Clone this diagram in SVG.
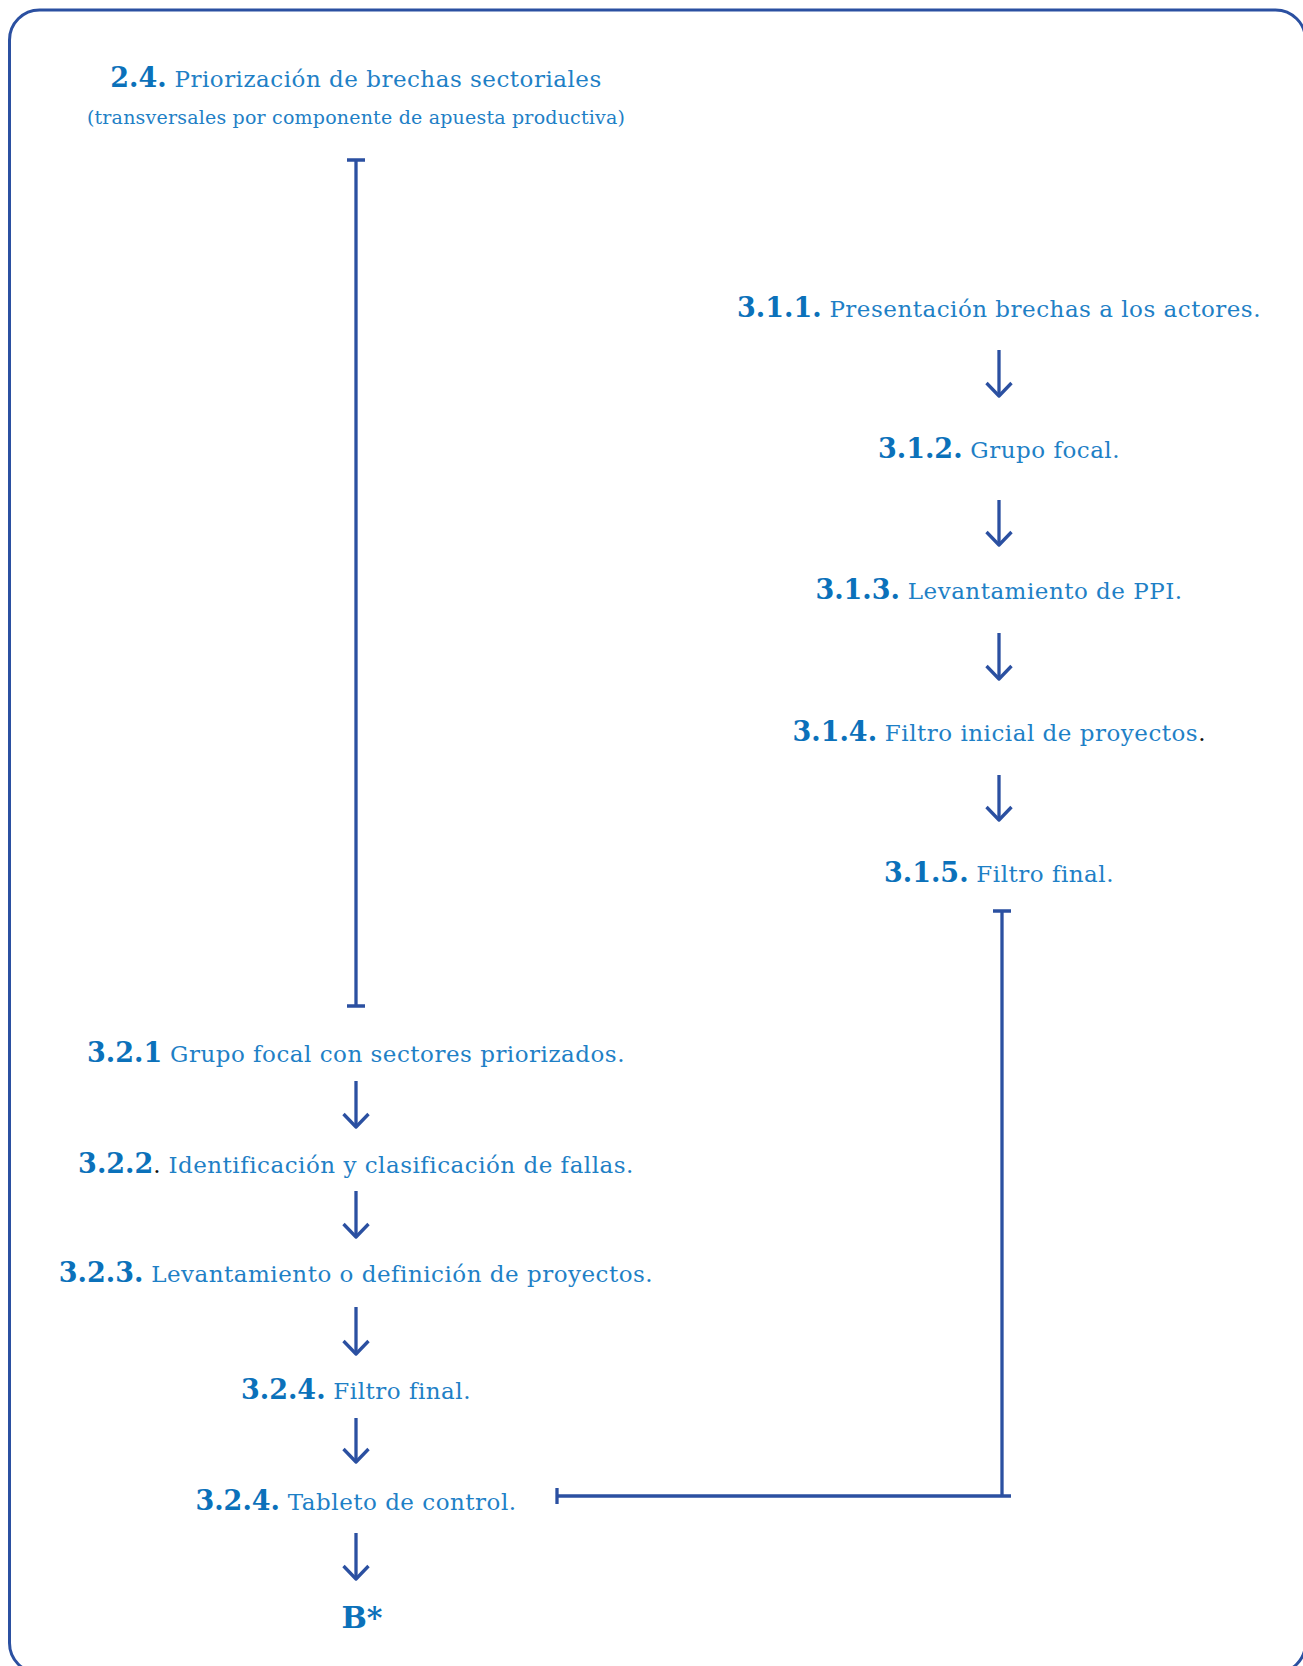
<svg xmlns="http://www.w3.org/2000/svg" width="1303" height="1666" viewBox="0 0 1303 1666">
<style>
.frame{fill:none;stroke:#2b50a1;stroke-width:3}
.con{fill:none;stroke:#2b50a1;stroke-width:3.3}
.arr{fill:none;stroke:#2b50a1;stroke-width:3.3;marker-end:url(#chev)}
text{font-family:"DejaVu Serif","Liberation Serif",serif;text-anchor:middle}
.num{font-weight:bold;font-size:27px;fill:#0b71ba}
.lbl{font-size:23px;letter-spacing:0.5px;fill:#1e80c6}
.sub{font-size:19px;letter-spacing:0.2px;fill:#1e80c6}
.blk{fill:#111111;font-size:23px}
.big{font-weight:bold;font-size:30px;fill:#0b71ba}
</style>
<defs>
<marker id="chev" markerUnits="userSpaceOnUse" orient="auto" refX="0" refY="0" markerWidth="30" markerHeight="30" viewBox="-16 -15 20 30" overflow="visible">
<path d="M-13,-12.5 L0,0 L-13,12.5" fill="none" stroke="#2b50a1" stroke-width="3.3" stroke-linejoin="round"/>
</marker>
</defs>
<rect class="frame" x="9.5" y="10" width="1296" height="1663" rx="30" ry="30"/>
<g id="connectors">
<path class="con" d="M356,160 V1006 M347,160 H365 M347,1006 H365"/>
<path class="con" d="M1002,911 V1496 H557 M993,911 H1011 M1002,1496 H1011 M557,1488 V1504"/>
<path class="arr" d="M999,350 V396"/>
<path class="arr" d="M999,500 V545"/>
<path class="arr" d="M999,633 V679"/>
<path class="arr" d="M999,775 V820"/>
<path class="arr" d="M356,1081 V1127"/>
<path class="arr" d="M356,1191 V1237"/>
<path class="arr" d="M356,1307 V1354"/>
<path class="arr" d="M356,1418 V1462"/>
<path class="arr" d="M356,1533 V1579"/>
</g>
<g id="n24">
<text x="356" y="87"><tspan class="num">2.4.</tspan><tspan class="lbl"> Priorización de brechas sectoriales</tspan></text>
<text class="sub" x="356" y="124">(transversales por componente de apuesta productiva)</text>
</g>
<g id="n311"><text x="999" y="317"><tspan class="num">3.1.1.</tspan><tspan class="lbl"> Presentación brechas a los actores.</tspan></text></g>
<g id="n312"><text x="999" y="458"><tspan class="num">3.1.2.</tspan><tspan class="lbl"> Grupo focal.</tspan></text></g>
<g id="n313"><text x="999" y="599"><tspan class="num">3.1.3.</tspan><tspan class="lbl"> Levantamiento de PPI.</tspan></text></g>
<g id="n314"><text x="999" y="741"><tspan class="num">3.1.4.</tspan><tspan class="lbl"> Filtro inicial de proyectos</tspan><tspan class="blk">.</tspan></text></g>
<g id="n315"><text x="999" y="882"><tspan class="num">3.1.5.</tspan><tspan class="lbl"> Filtro final.</tspan></text></g>
<g id="n321"><text x="356" y="1062"><tspan class="num">3.2.1</tspan><tspan class="lbl"> Grupo focal con sectores priorizados.</tspan></text></g>
<g id="n322"><text x="356" y="1173"><tspan class="num">3.2.2</tspan><tspan class="blk">.</tspan><tspan class="lbl"> Identificación y clasificación de fallas.</tspan></text></g>
<g id="n323"><text x="356" y="1282"><tspan class="num">3.2.3.</tspan><tspan class="lbl"> Levantamiento o definición de proyectos.</tspan></text></g>
<g id="n324a"><text x="356" y="1399"><tspan class="num">3.2.4.</tspan><tspan class="lbl"> Filtro final.</tspan></text></g>
<g id="n324b"><text x="356" y="1510"><tspan class="num">3.2.4.</tspan><tspan class="lbl"> Tableto de control.</tspan></text></g>
<g id="nB"><text class="big" x="362" y="1628">B*</text></g>
</svg>
